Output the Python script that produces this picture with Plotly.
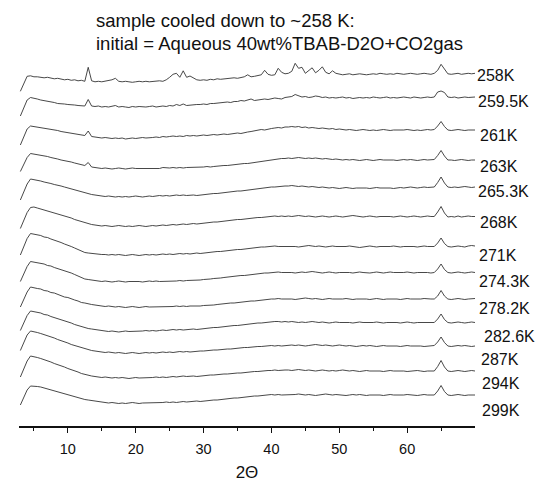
import plotly.graph_objects as go

# 2-theta sampling grid (degrees)
two_theta = [3.0, 3.5, 4.0, 4.5, 5.0,
             5.5, 6.0, 6.5, 7.0, 7.5, 8.0, 8.5, 9.0, 9.5, 10.0, 10.5, 11.0, 11.5, 12.0, 12.5,
             13.0, 13.5,
             14.0, 14.5, 15.0, 15.5, 16.0, 16.5, 17.0, 17.5, 18.0, 18.5, 19.0, 19.5, 20.0, 20.5,
             21.0, 21.5, 22.0, 22.5, 23.0, 23.5, 24.0, 24.5, 25.0, 25.5, 26.0, 26.5, 27.0, 27.5, 28.0,
             28.5, 29.0, 29.5, 30.0, 30.5, 31.0, 31.5, 32.0, 32.5, 33.0, 33.5, 34.0, 34.5, 35.0,
             35.5, 36.0, 36.5, 37.0, 37.5, 38.0, 38.5, 39.0, 39.5, 40.0, 40.5, 41.0, 41.5, 42.0,
             42.5, 43.0, 43.5, 44.0, 44.5, 45.0, 45.5, 46.0, 46.5, 47.0, 47.5, 48.0, 48.5, 49.0,
             49.5, 50.0, 50.5, 51.0, 51.5, 52.0, 52.5, 53.0, 53.5, 54.0, 54.5, 55.0, 55.5, 56.0,
             56.5, 57.0, 57.5, 58.0, 58.5, 59.0, 59.5, 60.0, 60.5, 61.0, 61.5, 62.0, 62.5, 63.0, 63.5,
             64.0, 64.5, 65.0, 65.5, 66.0,
             66.5, 67.0, 67.5, 68.0, 68.5, 69.0, 69.5, 70.0]

temperatures = ["258K", "259.5K", "261K", "263K", "265.3K", "268K", "271K",
                "274.3K", "278.2K", "282.6K", "287K", "294K", "299K"]

# stacking offsets (arb. units) for each pattern
offsets = [352.7, 329, 296, 266.5, 239, 209.5, 179.5, 153.5, 127, 103.5, 80, 55, 31]

# label positions (pixels from left / from top of the figure)
label_px = [476, 477, 479, 479, 477, 479, 478, 478, 478, 483, 480, 481, 481]
label_py = [75, 101.7, 135, 166.7, 191.7, 222.3, 255, 281.7, 308.3, 336.7, 359, 383.3, 410]

I_258 = [-18, -10, -3, -2.5, -3.5,
         -3.5, -4, -4.5, -4, -5, -5.5, -5, -6, -6.5, -6, -7, -6.5, -7.5, -7, -8,
         6, -7.5,
         -8.5, -8, -8.5, -8, -7.5, -6.5, -5, -8, -8.5, -8, -8.5, -9, -8.5, -8, -8.5, -8, -8.5, -8, -8,
         -7.5, -8, -6.5, -4, -1, 0, -4, 2.5, -4, -2.7,
         -5, -6.5, -7, -6.5, -7, -6, -6.5, -5.5, -6, -5.5, -5, -5, -4.5, -5, -4, -3.5, -1.5, -3.5,
         -3, -2.5, -1.5, 3, -1, -2, -1.5, 5, 1, -0.5,
         0, 2, 10, 5, 6, 0, 3, 5.5, 0.5, 3, 6.5, 1, -0.5, 2.5, 0, -1, -1.5, -1, -0.5, -1.5,
         -1, -0.5, -1, -1.5, -1, -0.5, -1, 0, -0.5, -1, -0.5, -1, 0, -0.5, -1, -0.5, 0, -0.5, -1, -0.5,
         0, -0.5, -1,
         0, 3, 9, 4, -0.5,
         -1, -0.5, 0, -1, -0.5, 0, -0.5, 0]

I_259_5 = [-19, -11, -3, -0.5, -1,
           -2, -3, -3.5, -4.5, -5, -5.5, -6.5, -6.5, -7, -7.5, -7.5, -8, -8.5, -8.5, -9,
           -2.5, -9,
           -9.5, -9, -10, -9.5, -10, -9.5, -8.5, -10, -9.5, -10, -10.5, -9.5, -10, -9.5, -10, -10,
           -9.5, -9, -10, -9.5, -9, -9.5, -8.5, -9, -7.5, -8.5, -7, -8.5, -8,
           -8, -7.5, -7.5, -7, -7.5, -6.5, -6.5, -6, -6, -5.5, -5, -5.5, -4.5, -4.5, -3.5, -4, -3, -2,
           -3.5, -3, -2.5, -2, -2.5, -2, -1, -1.5, -2, -0.5,
           0, 0.5, 2.5, 1.5, 0, 0.5, -0.5, 0, 1, 0.5, -0.5, 0, -1, -0.5, -1, -0.5, 0, -1, -0.5, -1.5,
           -1, -0.5, -1, -0.5, -1, 0, -0.5, -1, -0.5, 0, -1, -0.5, -1, -0.5, 0, -0.5, -1, 0, -0.5, -1,
           -0.5, 0, -0.5,
           0, 5, 6, 4.5, 0,
           -0.5, 0, -1, -0.5, 0, -0.5, 0, 0]

I_261 = [-15, -7, 1, 4, 3.5,
         3, 2, 2, 1, 0.5, 0, -0.5, -1.5, -2, -2.5, -3, -4, -4.5, -5, -5.5,
         -1, -6.5,
         -7, -7.5, -8, -7.5, -8, -8.5, -8, -8.5, -8, -9, -8.5, -8, -8.5, -8, -7.5, -8, -8, -7.5, -7,
         -7.5, -6.5, -7, -6.5, -6, -6.5, -6, -6.5, -5.5, -6,
         -5.5, -6, -5.5, -5, -5.5, -5, -4.5, -5, -4.5, -4, -4.5, -4, -3.5, -3, -3.5, -2.5, -2, -1.5,
         -1, -0.5, 0.5, 0, 1, 1.5, 2, 2.5, 2, 3,
         3, 3.5, 3, 3.5, 2.5, 3, 2, 2.5, 2, 1.5, 2, 1.5, 1, 1.5, 0.5, 1, 0.5, 0, 0.5, 0,
         -0.5, 0, 0.5, 0, -0.5, 0, -0.5, 0, 0.5, 0, -0.5, 0, 0, -0.5, 0, 0.5, 0, -0.5, 0, -0.5,
         0, 0.5, 0,
         0.5, 4, 8.5, 3.5, 0,
         -0.5, 0, 0.5, 0, -0.5, 0, 0, 0]

I_263 = [-12, -5, 2, 6, 5.5,
         5, 4.5, 3.5, 3, 2, 1.5, 0.5, -0.5, -1, -2, -2.5, -3.5, -4.5, -5, -6,
         -3, -7.5,
         -8, -8.5, -9, -8.5, -9, -9.5, -9, -8.5, -9, -9.5, -9, -8.5, -9, -9, -8.5, -9, -8.5, -9, -8.5,
         -9, -8, -8.5, -8.5, -8, -8.5, -8, -8.5, -8, -8,
         -8, -7.5, -8, -7.5, -7, -7.5, -7, -6.5, -6.5, -6, -6, -5.5, -5, -5, -4.5, -4, -4, -3.5,
         -3, -2.5, -2, -1.5, -1, 0, 0.5, 0.5, 1, 1,
         1.5, 1, 1.5, 2, 1.5, 1, 1.5, 1, 1.5, 1, 0.5, 1, 0.5, 0, 0.5, 0, -0.5, 0, -0.5, 0,
         -0.5, -1, -0.5, 0, -0.5, -1, -0.5, 0, -0.5, -0.5, 0, -0.5, -1, -0.5, 0, -0.5, 0, -0.5, -1, -0.5,
         0, -0.5, 0,
         0, 4, 9, 3.5, -0.5,
         -0.5, -1, -0.5, 0, -0.5, -1, -0.5, -0.5]

I_265_3 = [-13, -5, 3, 8, 7.5,
           7, 6, 5, 4.5, 3.5, 2.5, 2, 1, 0, -1, -2, -3, -4, -5, -6,
           -6.5, -7.5,
           -8, -8.5, -9, -9.5, -9, -9.5, -10, -9.5, -10, -9.5, -10, -9.5, -9, -9.5, -10, -9.5, -9, -9.5,
           -9, -8.5, -9, -8.5, -9, -8.5, -8, -8.5, -8, -8.5, -8,
           -8, -8.5, -8, -7.5, -7.5, -7, -6.5, -6.5, -6, -5.5, -5.5, -5, -4.5, -4, -4, -3.5, -3, -2.5,
           -2, -2, -1.5, -1, -0.5, 0, 0, 0.5, 1, 1,
           1, 1.5, 1, 0.5, 1, 0.5, 0, 0.5, 0, -0.5, 0, -0.5, -1, -0.5, -1, -1.5, -1, -0.5, -1, -1.5,
           -1, -1, -0.5, -1, -1.5, -1, -0.5, -1, -1, -0.5, -1, -1.5, -1, -0.5, -1, -0.5, 0, -0.5, -1, -0.5,
           0, -0.5, -0.5,
           0, 4.5, 10, 4, 0,
           -0.5, 0, -0.5, 0, 0.5, 0, -0.5, 0]

I_268 = [-12, -4, 4, 9, 9.5,
         8.5, 7.5, 7, 5.5, 5, 4, 3, 2, 1, 0, -1.5, -3, -4, -5.5, -6.5,
         -7, -8,
         -8.5, -9, -9.5, -9, -9.5, -10, -9.5, -9, -9.5, -10, -9.5, -10, -9.5, -9, -9.5, -10, -9.5, -9,
         -9.5, -9, -8.5, -9, -8.5, -8, -8.5, -8, -7.5, -8, -7.5,
         -7, -7.5, -7, -6.5, -6.5, -6, -5.5, -5.5, -5, -4.5, -4.5, -4, -3.5, -3, -3, -2.5, -2, -2,
         -1.5, -1, -1, -0.5, 0, 0, 0.5, 0, 0.5, 0,
         0.5, 0, 0.5, 1, 0.5, 0, 0.5, 0, -0.5, 0, 0.5, 0, -0.5, 0, 0.5, 0, -0.5, 0, 0.5, 1,
         0.5, 0, -0.5, 0, 0.5, 0, -0.5, 0, 0, 0.5, 0, -0.5, 0, 0.5, 0, -0.5, 0, 0.5, 0, -0.5,
         0, 0.5, 0,
         0, 4.5, 10, 3.5, -0.5,
         0, -0.5, 0.5, -0.5, 0, 0.5, 0, 0]

I_271 = [-8.5, 0, 8, 13, 12.5,
         11.5, 11, 9.5, 9, 7.5, 6.5, 5, 4, 2.5, 1.5, 0, -1.5, -3, -4.5, -6,
         -6.5, -7,
         -7.5, -7.5, -8, -8, -8.5, -8, -8.5, -8, -8.5, -9, -8.5, -8, -8.5, -9, -8.5, -8, -8.5, -8,
         -8.5, -8, -7.5, -8, -7.5, -8, -7.5, -7, -7.5, -7, -7.5,
         -7, -6.5, -7, -6.5, -6, -6, -5.5, -5, -5, -4.5, -4, -4, -3.5, -3, -3, -2.5, -2, -1.5,
         -1.5, -1, -0.5, -0.5, 0, 0, 0.5, 0, 0, 0.5,
         0, 0.5, 0, -0.5, 0, 0.5, 1, 0.5, 0, 0.5, 0, -0.5, 0, 0.5, 0, 0, -0.5, 0, 0.5, 0,
         -0.5, -1, -0.5, 0, 0.5, 0, -0.5, 0, 0, -0.5, 0, 0.5, 0, -0.5, 0, 0, 0.5, 0, -0.5, 0,
         0.5, 0, 0,
         0, 3.5, 8.5, 3, 0,
         -0.5, 0, 0.5, 0, -0.5, 0.5, 1, 0.5]

I_274_3 = [-9, -1, 6, 11, 10.5,
           10, 9, 8.5, 7, 6.5, 5, 4, 3, 2, 0.5, -0.5, -2, -3.5, -5, -6.5,
           -7, -7.5,
           -8, -8.5, -9, -8.5, -9, -9.5, -9, -8.5, -9, -9.5, -9, -9, -8.5, -9, -9.5, -9, -8.5, -9,
           -8.5, -9, -9, -8.5, -9, -8.5, -8.5, -8, -8.5, -8, -8,
           -8, -7.5, -7.5, -7, -7, -6.5, -6, -6, -5.5, -5, -4.5, -4.5, -4, -3.5, -3, -3, -2.5, -2,
           -1.5, -1.5, -1, -0.5, -0.5, 0, 0, 0.5, 0, 0,
           0.5, 0, -0.5, 0, 0.5, 0, 0.5, 1, 0.5, 0, -0.5, 0, 0.5, 0, -0.5, 0, 0, 0.5, 0, -0.5,
           0, 0.5, 0, -0.5, -0.5, 0, 0.5, 0, -0.5, 0, 0.5, 0, 0, -0.5, 0, 0.5, 0, -0.5, 0, 0,
           0.5, 0, -0.5,
           0, 3.5, 8.5, 3, 0,
           -0.5, 0, 0.5, 0, -0.5, 0, 0.5, 0]

I_278_2 = [-8, 0, 7, 12, 11,
           10.5, 10, 8.5, 8, 6.5, 6, 4.5, 3.5, 2, 1.5, 0, -1, -2, -3.5, -4,
           -5, -5.5,
           -6, -6.5, -7, -7.5, -7, -7.5, -8, -7.5, -8, -8.5, -8, -7.5, -8, -8.5, -8, -7.5, -8, -8,
           -7.5, -8, -7.5, -8, -7.5, -7.5, -7, -7.5, -7, -7.5, -7,
           -7, -7.5, -7, -6.5, -6.5, -6, -6, -5.5, -5, -5, -4.5, -4, -4, -3.5, -3, -3, -2.5, -2,
           -2, -1.5, -1, -1, -0.5, 0, 0, 0.5, 0, 0,
           0.5, 0, -0.5, 0, 0.5, 1, 0.5, 0, 0.5, 0, -0.5, 0, 0.5, 0, 0, -0.5, 0, 0.5, 0, -0.5,
           0, 0, 0.5, 0, -0.5, 0, 0.5, 0, -0.5, 0, 0, 0.5, 0, -0.5, 0, 0.5, 0, 0, -0.5, 0,
           0.5, 0, 0,
           0, 3, 8.5, 3, 0,
           -0.5, 0, 0.5, 0, -0.5, 0, 0.5, 0.5]

I_282_6 = [-8, 0, 7, 11.5, 11,
           10, 9.5, 8, 7.5, 6, 5, 4, 3, 1.5, 0.5, -0.5, -2, -3, -4.5, -5.5,
           -6, -6.5,
           -7, -7.5, -8, -8.5, -9, -8.5, -9, -9.5, -9, -8.5, -9, -9, -8.5, -9, -8.5, -8, -8.5, -8,
           -8.5, -8, -7.5, -8, -7.5, -7, -7.5, -7, -7.5, -7, -6.5,
           -6.5, -7, -6.5, -6, -6, -5.5, -5, -5, -4.5, -4, -4, -3.5, -3, -3, -2.5, -2, -1.5, -1.5,
           -1, -0.5, -0.5, 0, 0.5, 0.5, 1, 1, 0.5, 1,
           0.5, 1, 0.5, 0, 0.5, 0, 0.5, 1, 0.5, 0, 0.5, 0, -0.5, 0, 0.5, 0, 0, 0.5, 0, -0.5,
           0, 0.5, 0, 0, -0.5, 0, 0.5, 0, -0.5, 0, 0, 0.5, 0, -0.5, 0, 0.5, 0, -0.5, 0, 0,
           0.5, 0, 0,
           0, 3.5, 8.5, 3, 0,
           -0.5, 0, 0.5, 0, -0.5, 0, 0.5, 0]

I_287 = [-4.5, 4, 11, 15, 14.5,
         13.5, 12.5, 11.5, 10.5, 9, 8, 6.5, 5.5, 4, 3, 1.5, 0.5, -1, -2, -3,
         -3.5, -4.5,
         -5, -5.5, -6, -6.5, -6, -6.5, -7, -6.5, -7, -7.5, -7, -6.5, -7, -7.5, -7, -6.5, -7, -6.5,
         -7, -6.5, -6, -6.5, -6, -6.5, -6, -5.5, -6, -5.5, -6,
         -5.5, -5.5, -5, -5, -4.5, -4.5, -4, -4, -3.5, -3.5, -3, -3, -2.5, -2, -2, -1.5, -1.5, -1,
         -1, -0.5, -0.5, 0, 0, 0.5, 0, 0.5, 0, 0.5,
         0.5, 1, 0.5, 1, 0.5, 0, 0.5, 1, 1.5, 1, 0.5, 1, 0.5, 0, 0.5, 1, 0.5, 0, 0.5, 0,
         -0.5, 0, 0.5, 0, 0.5, 0, -0.5, 0, 0.5, 0, 0, 0.5, 0, -0.5, 0, 0.5, 0, 0, 0.5, 0,
         -0.5, 0, 0.5,
         0.5, 4, 9, 3.5, 0,
         -0.5, 0, 0.5, 0, 0.5, 0, -0.5, 0]

I_294 = [-6, 2, 10, 15, 14.5,
         13.5, 12.5, 11.5, 10, 9, 7.5, 6.5, 5, 4, 2.5, 1.5, 0, -1, -2.5, -3.5,
         -4, -5,
         -5.5, -6, -6.5, -6, -6.5, -7, -6.5, -7, -6.5, -7, -7.5, -7, -6.5, -7, -7, -6.5, -7, -6.5,
         -6, -6.5, -6, -6.5, -6, -5.5, -6, -5.5, -5, -5.5, -5,
         -5, -5.5, -5, -4.5, -4.5, -4, -4, -3.5, -3.5, -3, -3, -2.5, -2.5, -2, -2, -1.5, -1, -1,
         -0.5, -0.5, 0, 0, 0.5, 0.5, 1, 0.5, 1, 1,
         1, 0.5, 1, 1.5, 1, 0.5, 1, 0.5, 0, 0.5, 1, 0.5, 0, 0.5, 0, 0.5, 1, 0.5, 0, 0.5,
         0, -0.5, 0, 0.5, 0, 0, 0.5, 0, -0.5, 0, 0.5, 0, 0, 0.5, 0, -0.5, 0, 0, 0.5, 0,
         -0.5, 0, 0,
         0, 4.5, 10.5, 4, 0,
         -0.5, 0, 0.5, 0, -0.5, 0, 0.5, 0]

I_299 = [-10, -2, 5, 9, 9,
         8.5, 8, 7, 6.5, 5.5, 4.5, 3.5, 2.5, 1.5, 0.5, -0.5, -1.5, -2.5, -3.5, -4.5,
         -5, -5.5,
         -6, -6.5, -7, -7.5, -8, -7.5, -8, -8.5, -8, -8.5, -8, -7.5, -8, -8.5, -8, -8, -7.5, -8,
         -7.5, -8, -7.5, -7, -7.5, -7, -7.5, -7, -6.5, -7, -6.5,
         -6.5, -6, -6.5, -6, -5.5, -5.5, -5, -5, -4.5, -4, -4, -3.5, -3, -3, -2.5, -2, -2, -1.5,
         -1, -1, -0.5, 0, 0, 0.5, 0, 0.5, 0, 0,
         0.5, 0, 0.5, 1, 0.5, 0, 0.5, 0, -0.5, 0, 0.5, 1, 0.5, 0, 0.5, 0, 0, -0.5, 0, 0.5,
         0, 0.5, 0, -0.5, 0, 0, 0.5, 0, -0.5, 0, 0.5, 0, 0, -0.5, 0, 0.5, 0, 0, -0.5, 0,
         0.5, 0, 0,
         0, 4, 9.5, 3.5, 0,
         -0.5, 0, 0.5, 0, -0.5, 0, 0, 0]

intensities = [I_258, I_259_5, I_261, I_263, I_265_3, I_268, I_271,
               I_274_3, I_278_2, I_282_6, I_287, I_294, I_299]

title_lines = ["sample cooled down to ~258 K:",
               "initial = Aqueous 40wt%TBAB-D2O+CO2gas"]
title_px, title_py = 95, [20, 43]
x_title = "2Θ"
tick_vals = [10, 20, 30, 40, 50, 60]
minor_vals = [5, 15, 25, 35, 45, 55, 65]

for name, arr in zip(temperatures, intensities):
    if len(arr) != len(two_theta):
        raise SystemExit(f"{name}: {len(arr)} != {len(two_theta)}")

FONT = "Arial, 'Liberation Sans', sans-serif"
W, H = 537, 484
L, R, T, B = 19, 62, 0, 58
PW, PH = W - L - R, H - T - B


def px_to_paper(px, py):
    return (px - L) / PW, (H - B - py) / PH


fig = go.Figure()
for name, arr, off in zip(temperatures, intensities, offsets):
    fig.add_trace(go.Scatter(
        x=two_theta, y=[v + off for v in arr], mode="lines", name=name,
        line=dict(color="#333333", width=0.9), hoverinfo="skip", showlegend=False))

for name, px, py in zip(temperatures, label_px, label_py):
    ax, ay = px_to_paper(px, py)
    fig.add_annotation(x=ax, y=ay, xref="paper", yref="paper", text=name, showarrow=False,
                       xanchor="left", yanchor="middle", borderpad=0,
                       font=dict(family=FONT, size=16, color="#111"))

for line, py in zip(title_lines, title_py):
    ax, ay = px_to_paper(title_px, py)
    fig.add_annotation(x=ax, y=ay, xref="paper", yref="paper", text=line, showarrow=False,
                       xanchor="left", yanchor="middle", borderpad=0,
                       font=dict(family=FONT, size=18.5, color="#111"))

fig.update_layout(
    width=W, height=H,
    margin=dict(l=L, r=R, t=T, b=B),
    paper_bgcolor="white", plot_bgcolor="white",
    xaxis=dict(range=[2.8, 70], tickmode="array", tickvals=tick_vals,
               ticks="outside", ticklen=5, tickwidth=1.3, tickcolor="#111",
               showline=True, linecolor="#111", linewidth=1.5,
               showgrid=False, zeroline=False, ticklabelstandoff=4,
               tickfont=dict(family=FONT, size=14.5, color="#111"),
               minor=dict(tickmode="array", tickvals=minor_vals, ticks="outside",
                          ticklen=3, tickwidth=1.3, tickcolor="#111", showgrid=False),
               title=dict(text=x_title, font=dict(family=FONT, size=17, color="#111"),
                          standoff=10)),
    yaxis=dict(range=[0, PH], visible=False, fixedrange=True),
)

fig.write_html("out.html", config={"displayModeBar": False},
               post_script="document.body.style.margin='0';")
